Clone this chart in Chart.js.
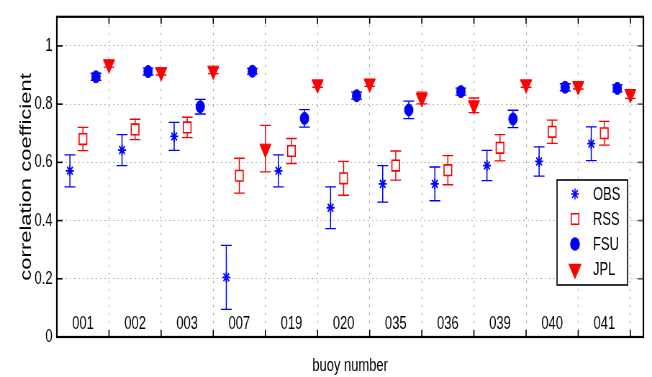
<!DOCTYPE html>
<html>
<head>
<meta charset="utf-8">
<script src="https://cdn.jsdelivr.net/npm/chart.js@4.4.0/dist/chart.umd.min.js"></script>
<style>
  html, body { margin: 0; padding: 0; background: #fff; overflow: hidden; }
</style>
</head>
<body>
<!-- the original figure is squeezed sideways, so draw wide and show narrow -->
<canvas id="chart" width="906" height="377" style="display:block;width:652px;height:377px"></canvas>
<script>
const buoys = ['001', '002', '003', '007', '019', '020', '035', '036', '039', '040', '041'];

const obsMean = [0.571, 0.642, 0.689, 0.205, 0.571, 0.444, 0.526, 0.526, 0.589, 0.603, 0.664];
const obsErr  = [0.055, 0.053, 0.048, 0.110, 0.055, 0.072, 0.063, 0.058, 0.052, 0.050, 0.058];

const rssMean = [0.680, 0.713, 0.720, 0.554, 0.639, 0.545, 0.589, 0.573, 0.650, 0.705, 0.700];
const rssErr  = [0.040, 0.035, 0.035, 0.060, 0.043, 0.058, 0.050, 0.050, 0.045, 0.040, 0.041];

const fsuMean = [0.894, 0.912, 0.791, 0.913, 0.751, 0.829, 0.780, 0.843, 0.749, 0.858, 0.854];
const fsuErr  = [0.012, 0.012, 0.025, 0.010, 0.030, 0.012, 0.030, 0.012, 0.030, 0.012, 0.012];

const jplMean = [0.937, 0.910, 0.915, 0.647, 0.868, 0.871, 0.821, 0.796, 0.868, 0.862, 0.835];
const jplErr  = [0.010, 0.010, 0.010, 0.080, 0.010, 0.010, 0.020, 0.025, 0.010, 0.010, 0.015];

const yTicks = [0, 0.2, 0.4, 0.6, 0.8, 1];
const xTicks = [0, 1, 2, 3, 4, 5, 6, 7, 8, 9, 10, 11];

const FONT = "'Liberation Sans', Arial, Helvetica, sans-serif";
const BLUE = '#0000ff';
const RED = '#ff0000';

// each buoy gets a slot of width 1, the four products sit at quarter steps
function makeSet(label, means, errs, offset, style) {
    return Object.assign({
        label: label,
        data: means.map((m, i) => ({ x: i + offset, y: m })),
        errors: errs
    }, style);
}

const errorBars = {
    id: 'errorBars',
    beforeDatasetsDraw(chart) {
        const { ctx, scales: { x, y } } = chart;
        chart.data.datasets.forEach(ds => {
            ctx.save();
            ctx.strokeStyle = ds.borderColor;
            ds.data.forEach((p, i) => {
                const px = x.getPixelForValue(p.x);
                const top = y.getPixelForValue(p.y + ds.errors[i]);
                const bot = y.getPixelForValue(p.y - ds.errors[i]);
                ctx.lineWidth = 1.5;
                ctx.beginPath();
                ctx.moveTo(px, top);
                ctx.lineTo(px, bot);
                ctx.stroke();
                ctx.lineWidth = 1.3;
                ctx.beginPath();
                ctx.moveTo(px - 7.5, top);
                ctx.lineTo(px + 7.5, top);
                ctx.moveTo(px - 7.5, bot);
                ctx.lineTo(px + 7.5, bot);
                ctx.stroke();
            });
            ctx.restore();
        });
    }
};

const frame = {
    id: 'frame',
    afterDatasetsDraw(chart) {
        const { ctx, chartArea: a, scales: { x, y } } = chart;
        ctx.save();
        const line = (x1, y1, x2, y2) => {
            ctx.beginPath();
            ctx.moveTo(x1, y1);
            ctx.lineTo(x2, y2);
            ctx.stroke();
        };
        // matlab style inner ticks on all four sides
        ctx.strokeStyle = '#000';
        ctx.lineWidth = 1.6;
        xTicks.forEach(v => {
            const px = x.getPixelForValue(v);
            line(px, a.bottom, px, a.bottom - 7);
            line(px, a.top, px, a.top + 7);
        });
        yTicks.forEach(v => {
            const py = y.getPixelForValue(v);
            line(a.left, py, a.left + 8, py);
        });
        ctx.strokeStyle = '#555';
        yTicks.forEach(v => {
            const py = y.getPixelForValue(v);
            line(a.right, py, a.right - 8, py);
        });

        ctx.strokeStyle = '#000';
        ctx.lineWidth = 2.2;
        ctx.strokeRect(a.left, a.top, a.right - a.left, a.bottom - a.top);

        // buoy ids written inside the axes
        ctx.fillStyle = '#000';
        ctx.font = '18px ' + FONT;
        ctx.textAlign = 'center';
        ctx.textBaseline = 'middle';
        buoys.forEach((b, i) => {
            ctx.fillText(b, x.getPixelForValue(i + 0.5), y.getPixelForValue(0.045));
        });
        ctx.restore();
    },
    afterDraw(chart) {
        const { ctx } = chart;
        const left = 774, top = 180, right = 872, bottom = 285;
        ctx.save();
        ctx.fillStyle = '#fff';
        ctx.fillRect(left, top, right - left, bottom - top);
        ctx.strokeStyle = '#000';
        ctx.lineWidth = 1.6;
        ctx.strokeRect(left, top, right - left, bottom - top);
        ctx.font = '18px ' + FONT;
        ctx.textAlign = 'left';
        ctx.textBaseline = 'middle';
        chart.data.datasets.forEach((ds, i) => {
            const cy = 194 + i * 25;
            ctx.strokeStyle = ds.borderColor;
            ctx.fillStyle = ds.backgroundColor;
            Chart.helpers.drawPoint(ctx, {
                pointStyle: ds.pointStyle,
                radius: ds.pointRadius,
                rotation: ds.pointRotation || 0,
                borderWidth: ds.borderWidth
            }, 799, cy);
            ctx.fillStyle = '#000';
            ctx.fillText(ds.label, 824, cy + 1);
        });
        ctx.restore();
    }
};

new Chart(document.getElementById('chart'), {
    type: 'scatter',
    data: {
        datasets: [
            makeSet('OBS', obsMean, obsErr, 0.25, {
                pointStyle: 'star', pointRadius: 5.5, borderColor: BLUE, backgroundColor: BLUE, borderWidth: 1.8
            }),
            makeSet('RSS', rssMean, rssErr, 0.5, {
                pointStyle: 'rect', pointRadius: 7.5, borderColor: RED, backgroundColor: '#fff', borderWidth: 1.6
            }),
            makeSet('FSU', fsuMean, fsuErr, 0.75, {
                pointStyle: 'circle', pointRadius: 6, borderColor: BLUE, backgroundColor: BLUE, borderWidth: 1
            }),
            makeSet('JPL', jplMean, jplErr, 1.0, {
                pointStyle: 'triangle', pointRotation: 180, pointRadius: 9, borderColor: RED, backgroundColor: RED, borderWidth: 1
            })
        ]
    },
    options: {
        responsive: false,
        animation: false,
        events: [],
        layout: { padding: { left: 0, right: 12, top: 7, bottom: 0 } },
        plugins: {
            legend: { display: false },
            tooltip: { enabled: false }
        },
        scales: {
            x: {
                type: 'linear',
                min: 0,
                max: 11.25,
                afterBuildTicks: s => { s.ticks = xTicks.map(v => ({ value: v })); },
                afterFit: s => { s.height = 40; },
                ticks: { display: false },
                grid: {
                    drawTicks: false,
                    lineWidth: 1,
                    color: c => (c.tick && c.tick.value > 0) ? '#9a9a9a' : 'rgba(0,0,0,0)'
                },
                border: { display: false, dash: [2, 6] },
                title: {
                    display: true,
                    text: 'buoy number',
                    color: '#000',
                    font: { family: FONT, size: 18 },
                    padding: { top: 0, bottom: 0 }
                }
            },
            y: {
                min: 0,
                max: 1.1,
                afterBuildTicks: s => { s.ticks = yTicks.map(v => ({ value: v })); },
                afterFit: s => { s.width = 79; },
                ticks: {
                    color: '#000',
                    font: { family: FONT, size: 18 },
                    padding: 6,
                    callback: v => String(v)
                },
                grid: {
                    drawTicks: false,
                    lineWidth: 1,
                    color: c => (c.tick && c.tick.value > 0) ? '#b5b5b5' : 'rgba(0,0,0,0)'
                },
                border: { display: false, dash: [2, 4] },
                title: {
                    display: true,
                    text: 'correlation coefficient',
                    color: '#000',
                    font: { family: FONT, size: 22 },
                    padding: { top: 24, bottom: 0 }
                }
            }
        }
    },
    plugins: [errorBars, frame]
});
</script>
</body>
</html>
